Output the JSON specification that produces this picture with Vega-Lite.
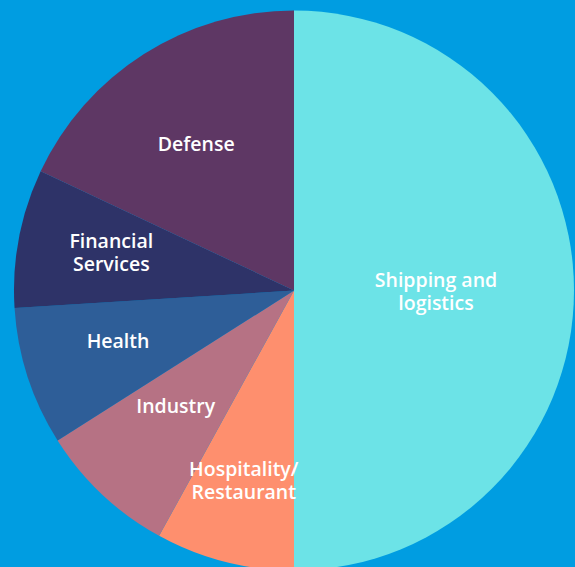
{
  "$schema": "https://vega.github.io/schema/vega-lite/v6.json",
  "width": 560,
  "height": 557,
  "padding": {"left": 14, "top": 10, "right": 1, "bottom": 0},
  "background": "#009de1",
  "config": {"view": {"stroke": null}, "text": {"font": "Open Sans", "fontWeight": 600, "fontSize": 19.5, "color": "white", "align": "center", "baseline": "middle", "lineBreak": "\n", "lineHeight": 23}},
  "data": {
    "values": [
      {"sector": "Shipping and logistics", "label": "Shipping and\nlogistics", "share": 50, "i": 1},
      {"sector": "Hospitality/Restaurant", "label": "Hospitality/\nRestaurant", "share": 8, "i": 2},
      {"sector": "Industry", "label": "Industry", "share": 8, "i": 3},
      {"sector": "Health", "label": "Health", "share": 8, "i": 4},
      {"sector": "Financial Services", "label": "Financial\nServices", "share": 8, "i": 5},
      {"sector": "Defense", "label": "Defense", "share": 18, "i": 6}
    ]
  },
  "encoding": {
    "theta": {"field": "share", "type": "quantitative", "stack": true},
    "order": {"field": "i", "type": "quantitative"}
  },
  "layer": [
    {
      "mark": {"type": "arc", "outerRadius": 280, "strokeWidth": 0},
      "encoding": {
        "color": {
          "field": "sector",
          "type": "nominal",
          "legend": null,
          "scale": {
            "domain": ["Shipping and logistics", "Hospitality/Restaurant", "Industry", "Health", "Financial Services", "Defense"],
            "range": ["#6ce3e7", "#fe8f6e", "#b67284", "#2e5e98", "#2e3368", "#5e3764"]
          }
        }
      }
    },
    {
      "mark": {"type": "text", "radius": 143, "dy": -9.5, "dx": -1},
      "encoding": {"text": {"condition": {"test": "datum.sector === 'Shipping and logistics'", "field": "label"}, "value": ""}}
    },
    {
      "mark": {"type": "text", "radius": 198, "dy": -12.5, "dx": -1},
      "encoding": {"text": {"condition": {"test": "datum.sector === 'Hospitality/Restaurant'", "field": "label"}, "value": ""}}
    },
    {
      "mark": {"type": "text", "radius": 167, "dx": -4, "dy": -5},
      "encoding": {"text": {"condition": {"test": "datum.sector === 'Industry'", "field": "label"}, "value": ""}}
    },
    {
      "mark": {"type": "text", "radius": 184, "dx": -1, "dy": -5},
      "encoding": {"text": {"condition": {"test": "datum.sector === 'Health'", "field": "label"}, "value": ""}}
    },
    {
      "mark": {"type": "text", "radius": 186, "dy": -13.5},
      "encoding": {"text": {"condition": {"test": "datum.sector === 'Financial Services'", "field": "label"}, "value": ""}}
    },
    {
      "mark": {"type": "text", "radius": 175, "dx": -4, "dy": 2},
      "encoding": {"text": {"condition": {"test": "datum.sector === 'Defense'", "field": "label"}, "value": ""}}
    }
  ]
}
